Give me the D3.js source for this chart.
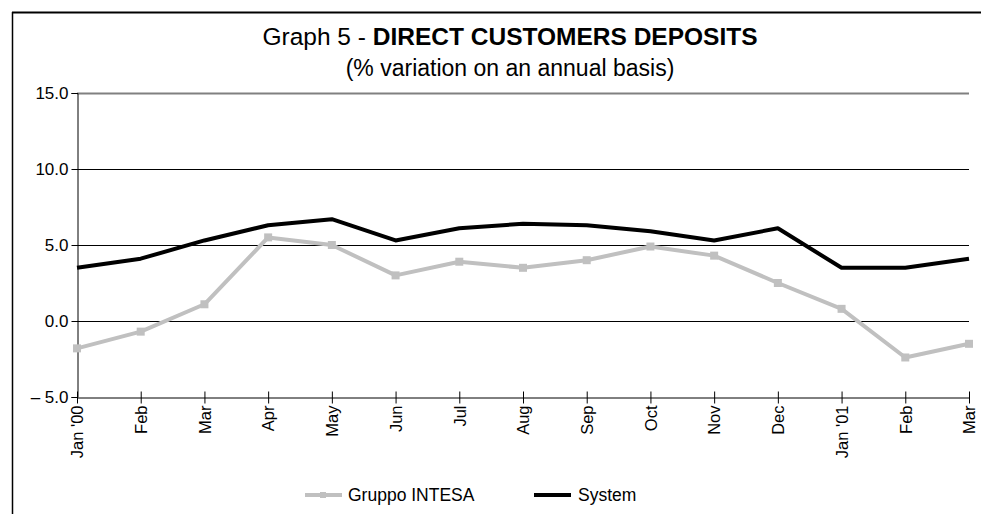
<!DOCTYPE html>
<html><head><meta charset="utf-8">
<script src="https://cdn.jsdelivr.net/npm/d3@7"></script>
<style>body{margin:0;background:#fff}svg{display:block}text{font-family:"Liberation Sans",Arial,sans-serif}</style>
</head><body><svg id="c" width="981" height="514"></svg>
<script>
const months = ["Jan '00","Feb","Mar","Apr","May","Jun","Jul","Aug","Sep","Oct","Nov","Dec","Jan '01","Feb","Mar"];
const intesa = [-1.8,-0.7,1.1,5.5,5.0,3.0,3.9,3.5,4.0,4.9,4.3,2.5,0.8,-2.4,-1.5];
const system = [3.5,4.1,5.3,6.3,6.7,5.3,6.1,6.4,6.3,5.9,5.3,6.1,3.5,3.5,4.1];
const yTicks = [-5,0,5,10,15];
const yTickLabels = ["– 5.0","0.0","5.0","10.0","15.0"];

const svg = d3.select("#c");
const x = d3.scalePoint().domain(d3.range(months.length)).range([77,969]);
const y = d3.scaleLinear().domain([-5,15]).range([397,93]);

// frame
svg.append("line").attr("x1",12).attr("x2",981).attr("y1",12.5).attr("y2",12.5).attr("stroke","#000").attr("stroke-width",2);
svg.append("line").attr("x1",12.5).attr("x2",12.5).attr("y1",12).attr("y2",514).attr("stroke","#000").attr("stroke-width",1.5);

// title
const t = svg.append("text").attr("x",510).attr("y",45).attr("text-anchor","middle").attr("font-size",24.5);
t.append("tspan").text("Graph 5 - ");
t.append("tspan").attr("font-weight","bold").text("DIRECT CUSTOMERS DEPOSITS");
svg.append("text").attr("x",510).attr("y",76).attr("text-anchor","middle").attr("font-size",23).text("(% variation on an annual basis)");

// gridlines
svg.append("g").selectAll("line").data(yTicks.filter(d=>d>-5)).join("line")
  .attr("x1",77).attr("x2",969).attr("y1",d=>Math.round(y(d))+0.5).attr("y2",d=>Math.round(y(d))+0.5)
  .attr("stroke",d=>d===15?"#808080":"#000").attr("stroke-width",d=>d===15?2:1);

// y axis
const ya = svg.append("g").attr("transform","translate(77.5,0)")
  .call(d3.axisLeft(y).tickValues(yTicks).tickFormat((d,i)=>yTickLabels[i]).tickSize(6).tickPadding(3));
ya.select(".domain").attr("stroke","#000");
ya.selectAll("text").attr("font-size",17).attr("fill","#000").attr("font-family","'Liberation Sans',Arial,sans-serif");

// x axis
const xa = svg.append("g").attr("transform","translate(0,397.5)")
  .call(d3.axisBottom(x).tickFormat(i=>months[i]).tickSizeInner(6).tickSizeOuter(0).tickPadding(8));
xa.selectAll(".tick line").attr("y1",-6).attr("y2",6);
xa.selectAll("text").attr("font-size",16.5).attr("fill","#000").attr("font-family","'Liberation Sans',Arial,sans-serif")
  .attr("transform","rotate(-90)").attr("text-anchor","end").attr("x",-8).attr("y",0).attr("dy","0.35em");

const line = d3.line().x((d,i)=>x(i)).y(d=>y(d));
svg.append("path").datum(intesa).attr("d",line).attr("fill","none").attr("stroke","#c0c0c0").attr("stroke-width",4).attr("stroke-linejoin","round");
svg.append("g").selectAll("rect").data(intesa).join("rect")
  .attr("x",(d,i)=>x(i)-4).attr("y",d=>y(d)-4).attr("width",8).attr("height",8).attr("fill","#c0c0c0");
svg.append("path").datum(system).attr("d",line).attr("fill","none").attr("stroke","#000").attr("stroke-width",4).attr("stroke-linejoin","round");

// legend
const lg = svg.append("g");
lg.append("line").attr("x1",305).attr("x2",342).attr("y1",495).attr("y2",495).attr("stroke","#c0c0c0").attr("stroke-width",4);
lg.append("rect").attr("x",320).attr("y",492).attr("width",6).attr("height",6).attr("fill","#c0c0c0");
lg.append("text").attr("x",348).attr("y",501).attr("font-size",17.5).text("Gruppo INTESA");
lg.append("line").attr("x1",534).attr("x2",571).attr("y1",495).attr("y2",495).attr("stroke","#000").attr("stroke-width",4);
lg.append("text").attr("x",578).attr("y",501).attr("font-size",17.5).text("System");
</script></body></html>
